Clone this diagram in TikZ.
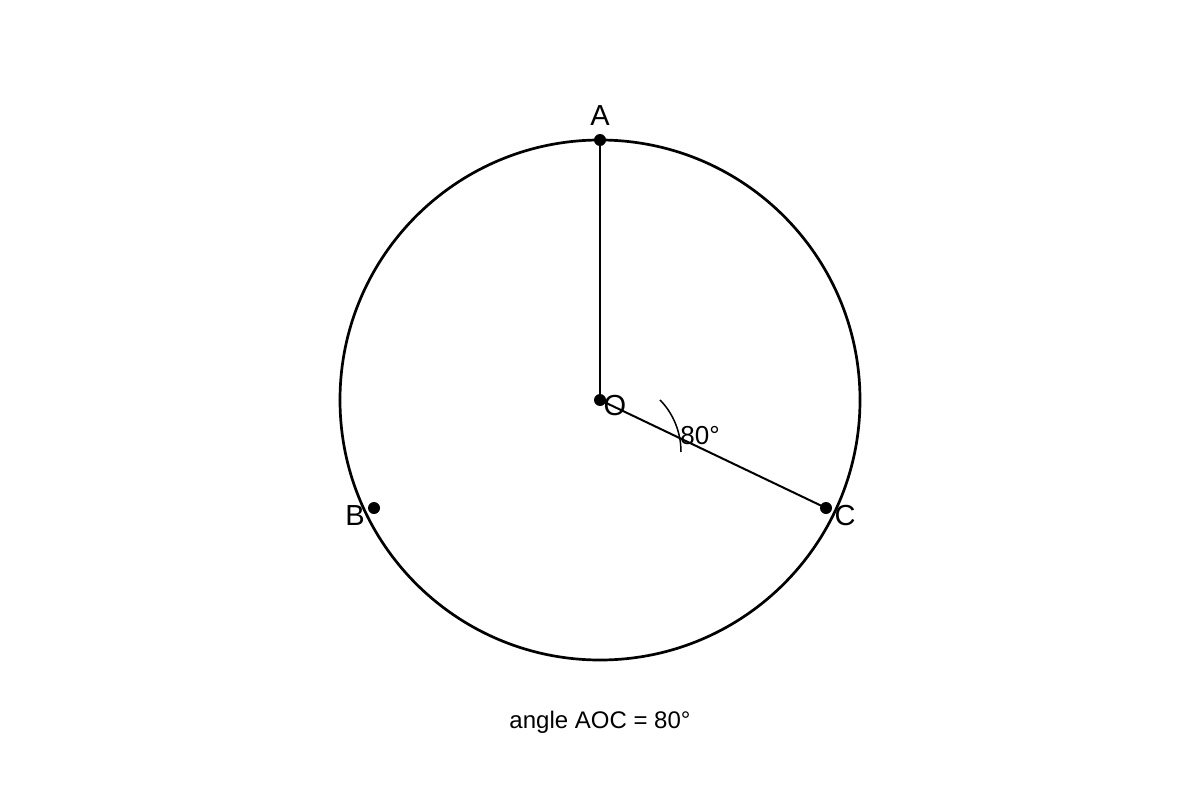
\documentclass[tikz,border=0pt]{standalone}
\usepackage{fontspec}
\setmainfont{Liberation Sans}
\begin{document}
\begin{tikzpicture}[x=1pt,y=-1pt,
  dot/.style={circle,fill=black,inner sep=0pt,minimum size=12pt},
  lbl/.style={inner sep=0pt,font=\fontsize{29}{33}\selectfont},
  caplbl/.style={inner sep=0pt,font=\fontsize{24}{28}\selectfont}]
\useasboundingbox (0,0) rectangle (1200,800);
\coordinate (O) at (600,400);
\draw[line width=2.7pt] (O) circle[radius=260];
\node[dot] (A) at (600,140) {};
\node[dot] (Od) at (600,400) {};
\node[dot] (B) at (374,508) {};
\node[dot] (C) at (826,508) {};
\draw[line width=2pt] (O) -- (A.center);
\draw[line width=2pt] (O) -- (C.center);
\coordinate (a1) at (660,400);
\coordinate (a2) at (681,452);
\draw[line width=1.5pt] (a1) .. controls (673,413) and (681,432) .. (a2);
\node[lbl] (LA) at (600,116) {A};
\node[lbl] (LB) at (355,516) {B};
\node[lbl] (LC) at (845,516) {C};
\node[lbl] (LO) at (615,406) {O};
\node[caplbl,font=\fontsize{26}{30}\selectfont] (L80) at (700,436) {80°};
\node[caplbl] (cap) at (600,722) {angle AOC = 80°};
\end{tikzpicture}
\end{document}
